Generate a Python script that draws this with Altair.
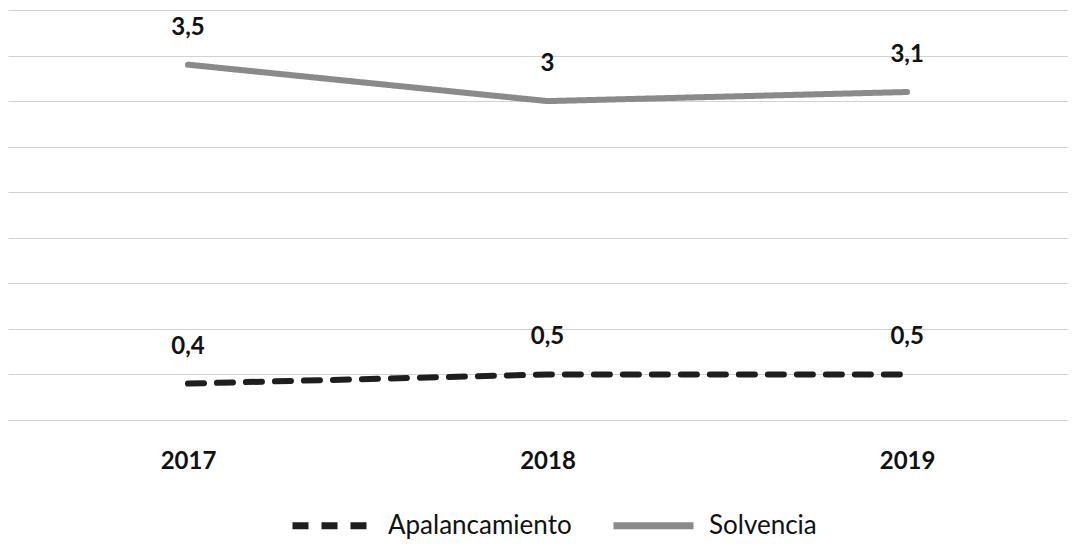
import altair as alt
import pandas as pd

years = ["2017", "2018", "2019"]
series_names = ["Apalancamiento", "Solvencia"]
apalancamiento = [0.4, 0.5, 0.5]
solvencia = [3.5, 3.0, 3.1]
grid_values = [0, 0.5, 1, 1.5, 2, 2.5, 3, 3.5, 4, 4.5]

rows = []
for i, y in enumerate(years):
    rows.append({"year": y, "series": series_names[0], "order": 0, "value": apalancamiento[i]})
    rows.append({"year": y, "series": series_names[1], "order": 1, "value": solvencia[i]})
df = pd.DataFrame(rows)

FONT = "Lato"

base = alt.Chart(df).transform_window(
    cum="sum(value)", groupby=["year"], sort=[alt.SortField("order")], frame=[None, 0]
).transform_calculate(
    label="replace(format(datum.value, '~g'), '.', ',')"
)

x_scale = alt.Scale(type="point", padding=0.474, align=0.528)
y_scale = alt.Scale(domain=[0, 4.5], nice=False, zero=True)

x_enc = alt.X(
    "year:N",
    scale=x_scale,
    axis=alt.Axis(
        title=None, ticks=False, domain=False, labelAngle=0,
        labelFont=FONT, labelFontSize=24, labelFontWeight="bold",
        labelColor="#111111", labelPadding=29, grid=False,
    ),
)
y_enc = alt.Y(
    "cum:Q",
    scale=y_scale,
    axis=alt.Axis(
        title=None, labels=False, ticks=False, domain=False,
        values=grid_values, grid=True, gridColor="#d2d2d2", gridWidth=1,
    ),
)

legend = alt.Legend(
    title=None, orient="none", legendX=281, legendY=472,
    direction="horizontal", symbolType="stroke", symbolSize=6400,
    symbolStrokeWidth=7, labelFont=FONT, labelFontSize=26,
    labelColor="#111111", labelOffset=12, columnPadding=27,
    labelLimit=400, padding=0,
)

lines = base.mark_line(strokeWidth=6, strokeCap="round").encode(
    x=x_enc,
    y=y_enc,
    color=alt.Color(
        "series:N",
        scale=alt.Scale(domain=series_names, range=["#1e1e1e", "#8a8a8a"]),
        legend=legend,
    ),
    strokeDash=alt.StrokeDash(
        "series:N",
        scale=alt.Scale(domain=series_names, range=[[16, 13], [1, 0]]),
        legend=legend,
    ),
    order=alt.Order("year:N"),
)

labels = base.mark_text(
    font=FONT, fontSize=24, fontWeight="bold", color="#111111",
    baseline="middle", align="center", dy=-37,
).encode(
    x=alt.X("year:N", scale=x_scale),
    y=alt.Y("cum:Q", scale=y_scale),
    text="label:N",
)

chart = alt.layer(lines, labels).properties(
    width=1060, height=410,
    padding={"left": 0, "top": 2, "right": 0, "bottom": 0},
    background="white",
).configure_view(stroke=None)

chart.save("out.html", embed_options={"renderer": "svg", "actions": False})
